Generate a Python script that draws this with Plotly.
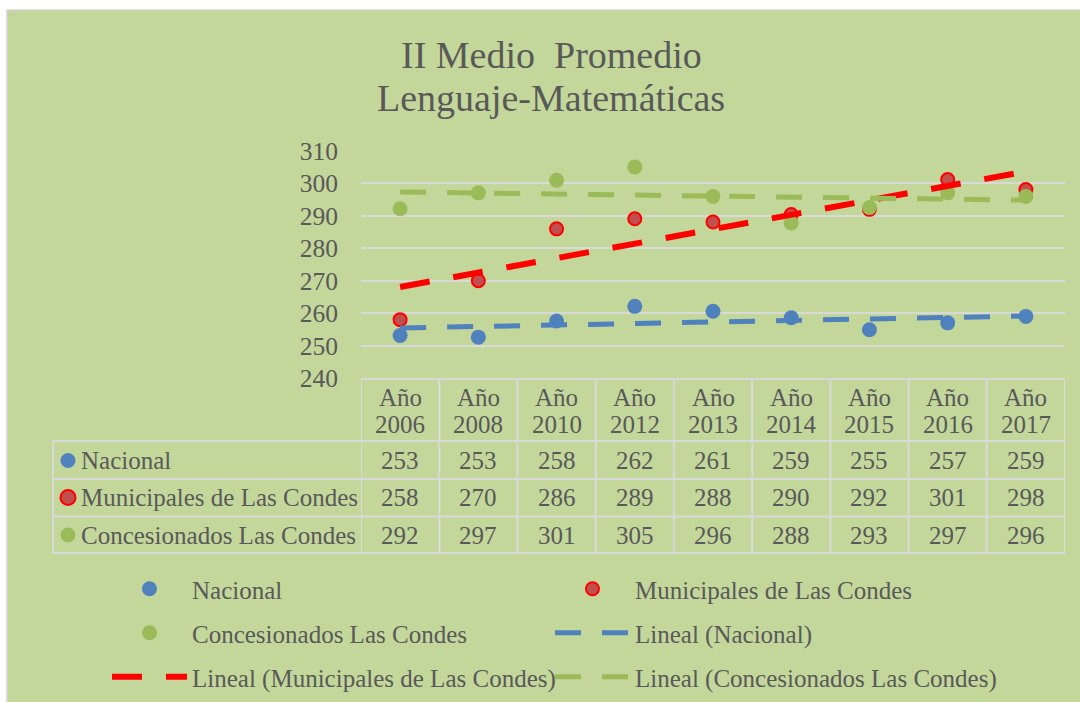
import numpy as np
import plotly.graph_objects as go

# ---------------- data ----------------
categories = ["2006", "2008", "2010", "2012", "2013", "2014", "2015", "2016", "2017"]
header_word = "Año"
series_names = ["Nacional", "Municipales de Las Condes", "Concesionados Las Condes"]
nacional = [253.1, 252.6, 257.6, 262.1, 260.6, 258.6, 254.9, 257.0, 259.0]
municipales = [258.0, 270.0, 286.0, 289.1, 288.1, 290.4, 292.0, 301.2, 298.1]
concesionados = [292.2, 297.1, 301.0, 305.1, 296.0, 287.8, 292.6, 297.1, 296.0]
y_ticks = [240, 250, 260, 270, 280, 290, 300, 310]
title_lines = ["II Medio\u00a0 Promedio", "Lenguaje-Matemáticas"]

# ---------------- styles ----------------
W, H = 1080, 702
L, R, T, B = 361, 1065, 151, 378      # plot area in pixels
FONT = "Liberation Serif"
TXT = "#595959"
BG = "#c4d79b"
PLOT_BG = "#eeece1"
GRID = "#d9d9d9"
BLUE = "#4f81bd"
GREEN = "#9bbb59"
RED = "#ff0000"
RED_FILL = "#c0504d"


def px(x):
    return x / W


def py(y):
    return (H - y) / H


series = [nacional, municipales, concesionados]
marker_styles = [
    dict(color=BLUE, size=15, line=dict(width=0)),
    dict(color=RED_FILL, size=13, line=dict(color=RED, width=2)),
    dict(color=GREEN, size=15, line=dict(width=0)),
]
trend_styles = [
    dict(color=BLUE, width=5, dash="26px,21px"),
    dict(color=RED, width=6, dash="30px,24px"),
    dict(color=GREEN, width=5, dash="26px,21px"),
]

fig = go.Figure()

# scatter markers
for i, (name, vals) in enumerate(zip(series_names, series)):
    fig.add_trace(go.Scatter(x=categories, y=vals, mode="markers", name=name,
                             marker=marker_styles[i]))

# linear trend lines (least squares on category index 1..n, as Excel does)
xi = np.arange(1, len(categories) + 1)
for i, (name, vals) in enumerate(zip(series_names, series)):
    m, c = np.polyfit(xi, np.array(vals), 1)
    fig.add_trace(go.Scatter(
        x=[categories[0], categories[-1]], y=[m * xi[0] + c, m * xi[-1] + c],
        mode="lines", name=f"Lineal ({name})", line=trend_styles[i],
    ))

# each legend entry in its own legend box (2 columns x 3 rows)
legend_ids = ["legend", "legend2", "legend3", "legend4", "legend5", "legend6"]
for tr, lid in zip(fig.data, legend_ids):
    tr.legend = lid

row_y = [589, 633, 677]
col_x = [107, 550]
legend_layout = {}
for k, lid in enumerate(legend_ids):
    r, ccol = divmod(k, 2)
    legend_layout[lid] = dict(
        x=px(col_x[ccol]), y=py(row_y[r]), xanchor="left", yanchor="middle",
        bgcolor="rgba(0,0,0,0)", borderwidth=0, itemwidth=75,
        font=dict(family=FONT, size=25, color=TXT),
    )

shapes = []
# chart area background
shapes.append(dict(type="rect", xref="paper", yref="paper",
                   x0=px(7), x1=px(1090), y0=py(712), y1=py(10),
                   fillcolor=BG, line=dict(color="#d4d4d4", width=1.5), layer="below"))

# data table grid
TL = dict(color=GRID, width=2)
for yy in [441, 479, 516.5, 553]:
    shapes.append(dict(type="line", xref="paper", yref="paper",
                       x0=px(53), x1=px(R), y0=py(yy), y1=py(yy), line=TL, layer="below"))
shapes.append(dict(type="line", xref="paper", yref="paper",
                   x0=px(L), x1=px(R), y0=py(379), y1=py(379), line=TL, layer="below"))
shapes.append(dict(type="line", xref="paper", yref="paper",
                   x0=px(53), x1=px(53), y0=py(441), y1=py(553), line=TL, layer="below"))
for k in range(len(categories) + 1):
    shapes.append(dict(type="line", xref="x", yref="paper",
                       x0=k - 0.5, x1=k - 0.5, y0=py(379), y1=py(553), line=TL, layer="below"))

# legend keys inside the table
row_centers = [460.5, 497.5, 535]
key_fill = [BLUE, RED_FILL, GREEN]
key_line = [BLUE, RED, GREEN]
rad = 7.5
for yy, f, lc in zip(row_centers, key_fill, key_line):
    shapes.append(dict(type="circle", xref="paper", yref="paper",
                       x0=px(68 - rad), x1=px(68 + rad), y0=py(yy + rad), y1=py(yy - rad),
                       fillcolor=f, line=dict(color=lc, width=2 if lc == RED else 0), layer="above"))

annotations = []
# title
for line, yy in zip(title_lines, [55, 98]):
    annotations.append(dict(text=line, xref="paper", yref="paper", x=px(551), y=py(yy),
                            xanchor="center", yanchor="middle", showarrow=False,
                            font=dict(family=FONT, size=38, color=TXT)))
# table header (category labels); category axes take the category index
for idx, cat in enumerate(categories):
    annotations.append(dict(text=header_word, xref="x", yref="paper", x=idx, y=py(397),
                            xanchor="center", yanchor="middle", showarrow=False,
                            font=dict(family=FONT, size=25, color=TXT)))
    annotations.append(dict(text=cat, xref="x", yref="paper", x=idx, y=py(424),
                            xanchor="center", yanchor="middle", showarrow=False,
                            font=dict(family=FONT, size=25, color=TXT)))
# table body
for name, vals, yy in zip(series_names, series, row_centers):
    annotations.append(dict(text=name, xref="paper", yref="paper", x=px(79), y=py(yy),
                            xanchor="left", yanchor="middle", showarrow=False,
                            font=dict(family=FONT, size=25, color=TXT)))
    for idx, v in enumerate(vals):
        annotations.append(dict(text=str(int(round(v))), xref="x", yref="paper", x=idx, y=py(yy),
                                xanchor="center", yanchor="middle", showarrow=False,
                                font=dict(family=FONT, size=25, color=TXT)))

fig.update_layout(
    width=W, height=H,
    margin=dict(l=0, r=0, t=0, b=0, pad=0, autoexpand=False),
    paper_bgcolor="white", plot_bgcolor=PLOT_BG,
    showlegend=True,
    shapes=shapes, annotations=annotations,
    font=dict(family=FONT, color=TXT),
    **legend_layout,
)
fig.update_xaxes(type="category", categoryorder="array", categoryarray=categories,
                 domain=[px(L), px(R)],
                 range=[-0.5, len(categories) - 0.5], showgrid=False, showticklabels=False,
                 showline=False, zeroline=False, ticks="")
fig.update_yaxes(range=[240, 310], tickvals=y_ticks, domain=[py(B), py(T)],
                 showgrid=True, gridcolor=GRID, gridwidth=2,
                 showline=False, zeroline=False, ticks="", ticklabelstandoff=22,
                 tickfont=dict(family=FONT, size=25.5, color=TXT))

fig.write_html("out.html", config={"displayModeBar": False},
               post_script="document.body.style.margin='0px';")
